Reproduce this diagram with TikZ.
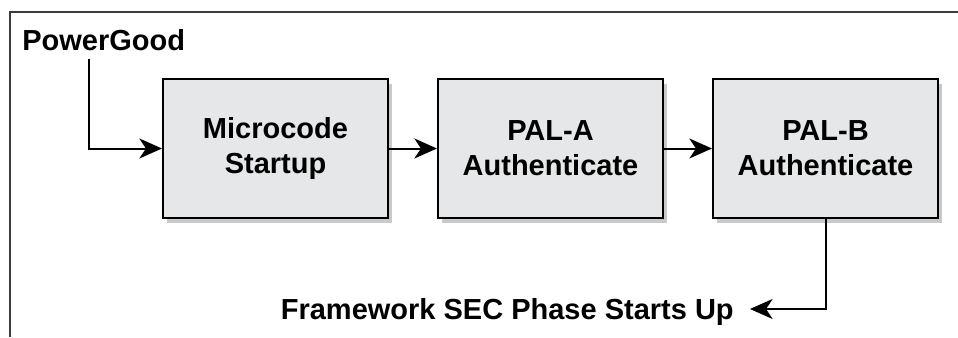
\documentclass[tikz,border=0pt]{standalone}
\usepackage{fontspec}
\setmainfont{Liberation Sans}
\usetikzlibrary{positioning, arrows.meta, shadows}
\definecolor{boxgray}{HTML}{E6E7E8}
\definecolor{framegray}{HTML}{3C3C3C}

\begin{document}
\begin{tikzpicture}[x=0.75pt, y=-0.75pt, node distance=36pt]
% Define styles
\tikzstyle{stage} = [rectangle, minimum width=168.75pt, minimum height=104.25pt, align=center, draw=black, line width=1.5pt, fill=boxgray, font=\fontsize{21.75}{26.25}\selectfont\bfseries, drop shadow={shadow xshift=3pt, shadow yshift=-3.5pt, opacity=0.3, fill=black!70}]
\tikzstyle{caption} = [font=\fontsize{21.75}{26.25}\selectfont\bfseries, inner sep=3pt]
\tikzstyle{arrow} = [line width=1.5pt, -{Stealth[length=17pt, width=15pt, inset=5pt]}]
\tikzstyle{frame} = [line width=1.1pt, draw=framegray]

\useasboundingbox (0,0) rectangle (958,337);

% Partial frame
\draw [frame] (10,337) -- (10,12) -- (958,12);

% Boot stages
\node (micro) [stage] at (275.5,148.5) {Microcode\\Startup};
\node (pala) [stage, right=of micro] {PAL-A\\Authenticate};
\node (palb) [stage, right=of pala] {PAL-B\\Authenticate};

% Signals
\node (power) [caption, anchor=base west] at (18,50) {PowerGood};
\node (sec) [caption, anchor=east, text depth=0pt, inner xsep=12pt] at (750,309) {Framework SEC Phase Starts Up};

% Flow arrows
\draw [arrow] ([xshift=-11.25pt, yshift=-3pt]power.south) |- (micro.west);
\draw [arrow] (micro) -- (pala);
\draw [arrow] (pala) -- (palb);
\draw [arrow] (palb.south) |- (sec.east);

\end{tikzpicture}
\end{document}
